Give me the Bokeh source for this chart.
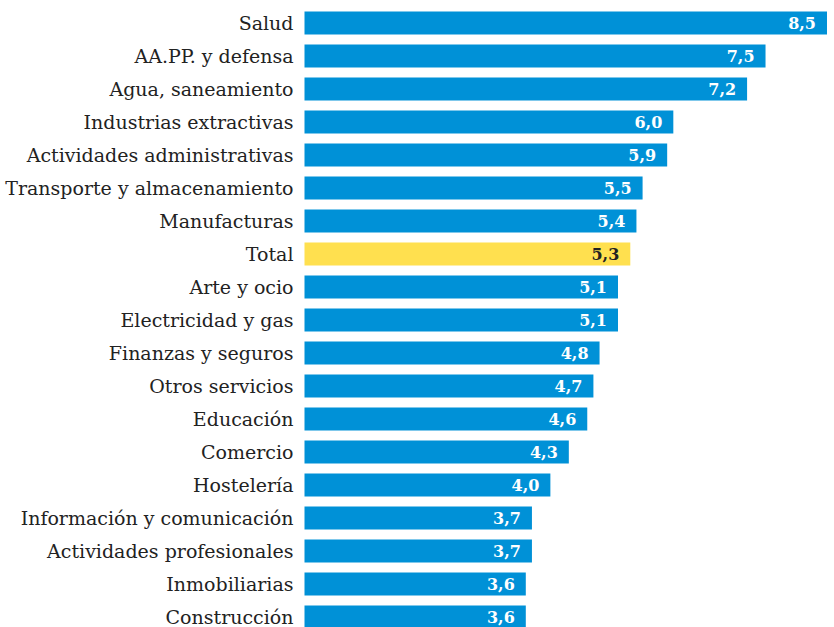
from bokeh.plotting import figure
from bokeh.models import ColumnDataSource, Range1d
from bokeh.core.properties import value
from bokeh.embed import file_html
from bokeh.resources import INLINE

categories = ["Salud", "AA.PP. y defensa", "Agua, saneamiento", "Industrias extractivas",
              "Actividades administrativas", "Transporte y almacenamiento", "Manufacturas",
              "Total", "Arte y ocio", "Electricidad y gas", "Finanzas y seguros",
              "Otros servicios", "Educación", "Comercio", "Hostelería",
              "Información y comunicación", "Actividades profesionales", "Inmobiliarias",
              "Construcción"]
values = [8.5, 7.5, 7.2, 6.0, 5.9, 5.5, 5.4, 5.3, 5.1, 5.1, 4.8, 4.7, 4.6, 4.3, 4.0,
          3.7, 3.7, 3.6, 3.6]

W, H = 834, 627
x0px = 304
k = (826.5 - 304) / 8.5
row = 33.0
first = 22.5

n = len(categories)
ys = list(range(n))
colors = ["#FFE04F" if c == "Total" else "#0091D7" for c in categories]
tcolors = ["#222222" if c == "Total" else "#FFFFFF" for c in categories]
labels = [f"{v:.1f}".replace(".", ",") for v in values]

src = ColumnDataSource(dict(y=ys, v=values, cat=categories, color=colors,
                            tcolor=tcolors, lab=labels))

p = figure(width=W, height=H, output_backend="svg", toolbar_location=None,
           x_range=Range1d(-x0px / k, (W - x0px) / k),
           y_range=Range1d((H - first) / row, -first / row),
           min_border=0, outline_line_color=None)
p.axis.visible = False
p.grid.visible = False
p.background_fill_color = "white"
p.border_fill_color = "white"

p.hbar(y="y", left=0, right="v", height=23 / row, fill_color="color",
       line_color=None, source=src)

p.text(x=0, y="y", text="cat", x_offset=-11, y_offset=0, text_align="right",
       text_baseline="middle", text_font=value("DejaVu Serif"),
       text_font_size="19px", text_color="#222222", source=src)

p.text(x="v", y="y", text="lab", x_offset=-11, y_offset=0, text_align="right",
       text_baseline="middle", text_font=value("DejaVu Serif"),
       text_font_size="16px", text_font_style="bold", text_color="tcolor",
       source=src)

open("out.html", "w").write(file_html(p, INLINE))
